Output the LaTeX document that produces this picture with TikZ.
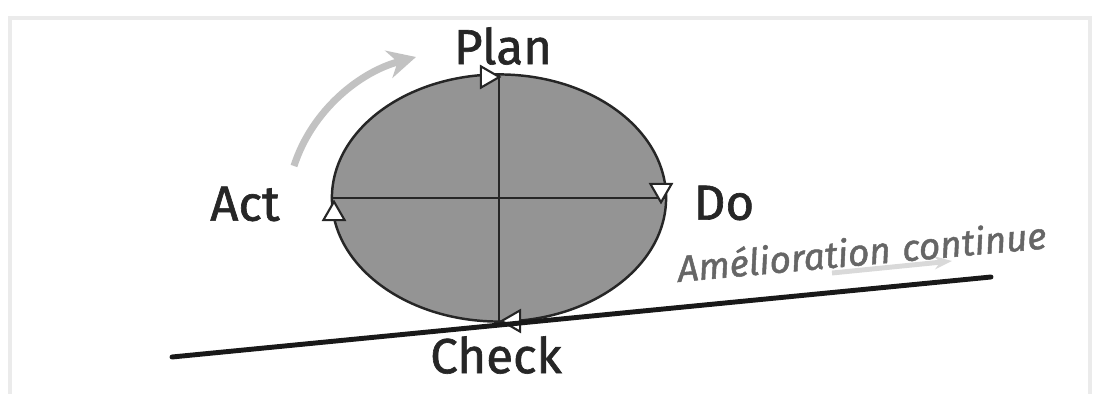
\documentclass[tikz,border=0pt]{standalone}
\usepackage{fontspec}
\setmainfont{Fira Sans}
\newfontfamily\hand{Fira Sans}[FakeBold=1.3]
\usetikzlibrary{shapes.geometric,arrows.meta}
\begin{document}
\begin{tikzpicture}[x=0.01cm,y=-0.01cm,
  lbl/.style={font=\hand\fontsize{14}{16}\selectfont, text=black!85, inner sep=0pt},
  sub/.style={font=\hand\fontsize{10.5}{12}\selectfont\itshape, text=black!60, rotate=5.2, inner sep=0pt, anchor=base west},
  tri/.style={regular polygon, regular polygon sides=3, draw=black!85, fill=white, line width=0.6pt, inner sep=0pt, minimum size=7pt},
  axis/.style={draw=black!85, line width=0.7pt}]
\useasboundingbox (0,0) rectangle (1099,394);
\draw[black!8, line width=1pt] (10,18) rectangle (1090,420);
% ellipse
\node[ellipse, draw=black!85, fill=black!42, line width=0.7pt, minimum width=3.34cm, minimum height=2.47cm, inner sep=0pt] (cyc) at (499,198) {};
\draw[axis] (cyc.north) -- (cyc.south);
\draw[axis] (cyc.west) -- (cyc.east);
% direction triangles
\node[tri, rotate=-90] (t1) at (487,77) {};
\node[tri, rotate=180] (t2) at (661,190) {};
\node[tri, rotate=90] (t3) at (514,321) {};
\node[tri] (t4) at (334,214) {};
% base line
\coordinate (l0) at (172,357);
\coordinate (l1) at (991,277);
\draw[black!90, line width=1.4pt, line cap=round] (l0) -- (l1);
% faint arrow under the text
\coordinate (a0) at (832,273);
\coordinate (a1) at (952,261);
\draw[black!15, line width=1.4pt, -{Stealth[length=5pt]}] (a0) -- (a1);
% labels
\node[lbl] (plan) at (503,46) {Plan};
\node[lbl] (act) at (245,204) {Act};
\node[lbl] (do) at (724,203) {Do};
\node[lbl] (check) at (496,355) {Check};
\node[sub] (amel) at (678,282) {Amélioration};
\node[sub] (cont) at (amel.base east) {\hspace{0.28em}continue};
% gray curved arrow
\coordinate (c0) at (294,166);
\coordinate (c1) at (416,57);
\draw[black!24, line width=2pt, -{Stealth[length=8pt,width=8pt]}] (c0) .. controls (312,110) and (360,72) .. (c1);
\end{tikzpicture}
\end{document}
